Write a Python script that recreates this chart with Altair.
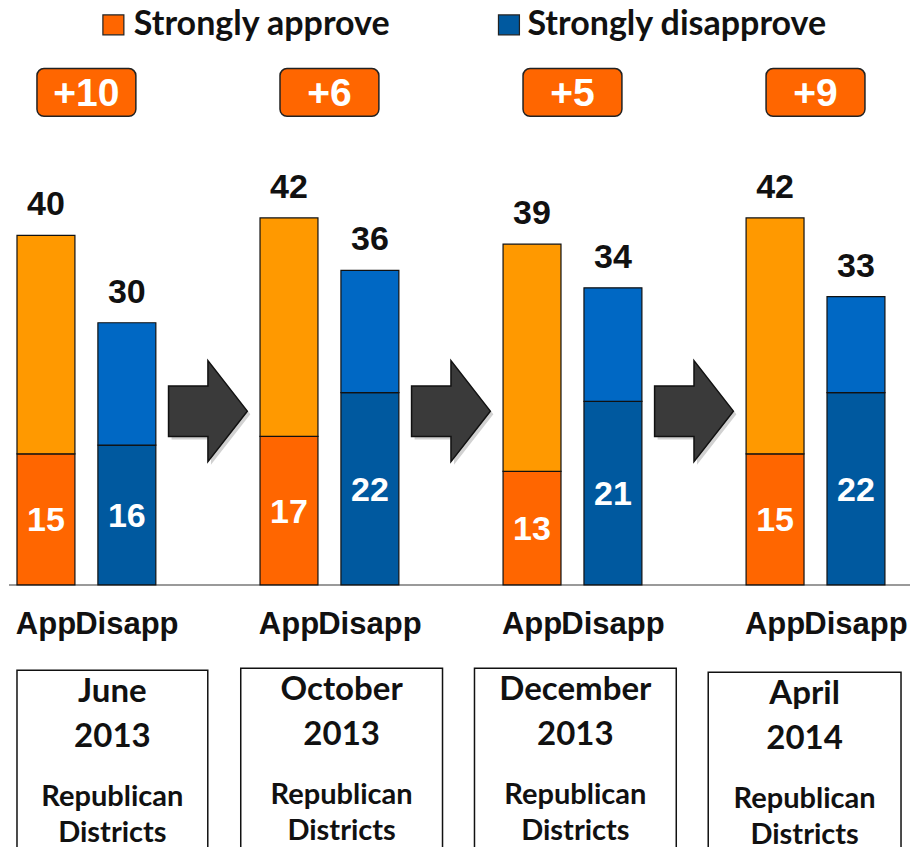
import altair as alt
import pandas as pd

# ---------------- data ----------------
months = ["June", "October", "December", "April"]
years = ["2013", "2013", "2013", "2014"]
approve_total = [40, 42, 39, 42]
approve_strong = [15, 17, 13, 15]
disapprove_total = [30, 36, 34, 33]
disapprove_strong = [16, 22, 21, 22]
bar_labels = ["App", "Disapp"]
legend_labels = ["Strongly approve", "Strongly disapprove"]
region_lines = ["Republican", "Districts"]

# ---------------- layout constants ----------------
W, H = 908, 842            # chart size (page 8..916 x 8..850)
PX = 8.8                   # pixels per percentage point
BASE = 586                 # page y of the zero baseline
X0 = 8                     # page x of chart left


def vy(page_y):
    return (BASE - page_y) / PX


Y_DOMAIN = [vy(8 + H), vy(8)]
X_DOMAIN = [X0, X0 + W]
xs = alt.Scale(domain=X_DOMAIN, nice=False, zero=False)
ys = alt.Scale(domain=Y_DOMAIN, nice=False, zero=False)

GROUP_LEFT0, GROUP_STEP = 16, 243.3
BAR_W, DIS_OFF = 58, 81

seg_domain = ["appr_strong", "appr", "dis_strong", "dis"]
seg_range = ["#FF6600", "#FF9900", "#00599F", "#0068C4"]
cs = alt.Scale(domain=seg_domain, range=seg_range)


def X(f="x"):
    return alt.X(f"{f}:Q", scale=xs, axis=None)


def Y(f="y"):
    return alt.Y(f"{f}:Q", scale=ys, axis=None)


# ---------------- tables ----------------
bars, tops, inner, cats, nets, boxes, boxtext = [], [], [], [], [], [], []
n = len(months)
box_left = [16, 240, 474, 708]
box_right = [207, 442, 676, 901]
box_top = [672, 670, 670, 674]
for i in range(n):
    gl = GROUP_LEFT0 + i * GROUP_STEP
    ax, dx = gl, gl + DIS_OFF
    bars += [
        dict(x=ax, x2=ax + BAR_W, y=0, y2=approve_strong[i], seg="appr_strong"),
        dict(x=ax, x2=ax + BAR_W, y=approve_strong[i], y2=approve_total[i], seg="appr"),
        dict(x=dx, x2=dx + BAR_W, y=0, y2=disapprove_strong[i], seg="dis_strong"),
        dict(x=dx, x2=dx + BAR_W, y=disapprove_strong[i], y2=disapprove_total[i], seg="dis"),
    ]
    tops += [dict(x=ax + BAR_W / 2, y=approve_total[i], t=str(approve_total[i])),
             dict(x=dx + BAR_W / 2, y=disapprove_total[i], t=str(disapprove_total[i]))]
    inner += [dict(x=ax + BAR_W / 2, y=approve_strong[i] / 2, t=str(approve_strong[i])),
              dict(x=dx + BAR_W / 2, y=disapprove_strong[i] / 2, t=str(disapprove_strong[i]))]
    cats += [dict(x=ax + BAR_W / 2, y=vy(626), t=bar_labels[0]),
             dict(x=dx + BAR_W / 2, y=vy(626), t=bar_labels[1])]
    gc = gl + (DIS_OFF + BAR_W) / 2
    net = approve_total[i] - disapprove_total[i]
    nets.append(dict(x=gc - 49.5, x2=gc + 49.5, y=vy(66), y2=vy(114),
                     xc=gc, yc=vy(91), t=f"+{net}" if net >= 0 else str(net)))
    bx = (box_left[i] + box_right[i]) / 2
    boxes.append(dict(x=box_left[i], x2=box_right[i], y=vy(box_top[i]), y2=Y_DOMAIN[0] - 2))
    boxtext += [dict(x=bx, y=vy(box_top[i] + 22), t=months[i], s=33),
                dict(x=bx, y=vy(box_top[i] + 67), t=years[i], s=33),
                dict(x=bx, y=vy(box_top[i] + 128), t=region_lines[0], s=29),
                dict(x=bx, y=vy(box_top[i] + 164), t=region_lines[1], s=29)]

arrows = []
for i in range(n - 1):
    right = GROUP_LEFT0 + i * GROUP_STEP + DIS_OFF + BAR_W
    left_next = GROUP_LEFT0 + (i + 1) * GROUP_STEP
    arrows.append(dict(x=(right + left_next) / 2, y=vy(411)))

legend = [dict(x=102, x2=123, y=vy(12), y2=vy(32), seg="appr_strong",
               tx=133, ty=vy(32), t=legend_labels[0]),
          dict(x=498, x2=519, y=vy(12), y2=vy(32), seg="dis_strong",
               tx=527, ty=vy(32), t=legend_labels[1])]

baseline = pd.DataFrame([dict(x=X0, x2=X0 + W - 6, y=0)])

df_bars = pd.DataFrame(bars)
df_tops = pd.DataFrame(tops)
df_inner = pd.DataFrame(inner)
df_cats = pd.DataFrame(cats)
df_nets = pd.DataFrame(nets)
df_boxes = pd.DataFrame(boxes)
df_boxtext = pd.DataFrame(boxtext)
df_arrows = pd.DataFrame(arrows)
df_legend = pd.DataFrame(legend)

ARIAL = "Liberation Sans"
CALIBRI = "Lato"
ARROW = "M -0.78 -0.5 L 0 -0.5 L 0 -1 L 0.78 0 L 0 1 L 0 0.5 L -0.78 0.5 Z"

# ---------------- layers ----------------
bar_layer = alt.Chart(df_bars).mark_rect(stroke="#111111", strokeWidth=1.2).encode(
    x=X(), x2="x2:Q", y=Y(), y2="y2:Q",
    color=alt.Color("seg:N", scale=cs, legend=None))

rule = alt.Chart(baseline).mark_rule(color="#9a9a9a", strokeWidth=2).encode(
    x=X(), x2="x2:Q", y=Y())

top_text = alt.Chart(df_tops).mark_text(
    font=ARIAL, fontWeight="bold", fontSize=34, color="#111111",
    baseline="alphabetic", dy=-20).encode(x=X(), y=Y(), text="t:N")

inner_text = alt.Chart(df_inner).mark_text(
    font=ARIAL, fontWeight="bold", fontSize=34, color="white",
    baseline="middle", dy=2).encode(x=X(), y=Y(), text="t:N")

cat_text = alt.Chart(df_cats).mark_text(
    font=ARIAL, fontWeight="bold", fontSize=31, color="#111111",
    baseline="middle").encode(x=X(), y=Y(), text="t:N")

arrow_shadow = alt.Chart(df_arrows).mark_point(
    shape=ARROW, size=101 * 101, filled=True, color="#999999", opacity=0.45,
    xOffset=3, yOffset=3).encode(x=X(), y=Y())
arrow_layer = alt.Chart(df_arrows).mark_point(
    shape=ARROW, size=101 * 101, filled=True, fill="#3a3a3a", stroke="#111111",
    strokeWidth=1.5, opacity=1).encode(x=X(), y=Y())

net_box = alt.Chart(df_nets).mark_rect(
    fill="#FF6600", stroke="#222222", strokeWidth=1.5, cornerRadius=7).encode(
    x=X(), x2="x2:Q", y=Y(), y2="y2:Q")
net_text = alt.Chart(df_nets).mark_text(
    font=ARIAL, fontWeight="bold", fontSize=39, color="white",
    baseline="middle", dy=1).encode(x=X("xc"), y=Y("yc"), text="t:N")

box_shadow = alt.Chart(df_boxes).mark_rect(
    fill="#9a9a9a", opacity=0.55, xOffset=4, yOffset=4, clip=True).encode(
    x=X(), x2="x2:Q", y=Y(), y2="y2:Q")
box_layer = alt.Chart(df_boxes).mark_rect(
    fill="white", stroke="#111111", strokeWidth=1.5, clip=True).encode(
    x=X(), x2="x2:Q", y=Y(), y2="y2:Q")
box_text = alt.Chart(df_boxtext).mark_text(
    font=CALIBRI, fontWeight="bold", color="#111111", baseline="middle").encode(
    x=X(), y=Y(), text="t:N",
    size=alt.Size("s:Q", scale=None, legend=None))

legend_sq = alt.Chart(df_legend).mark_rect(stroke="#222222", strokeWidth=1.2).encode(
    x=X(), x2="x2:Q", y=Y(), y2="y2:Q",
    color=alt.Color("seg:N", scale=cs, legend=None))
legend_text = alt.Chart(df_legend).mark_text(
    font=CALIBRI, fontWeight="bold", fontSize=34, color="#111111",
    align="left", baseline="alphabetic").encode(x=X("tx"), y=Y("ty"), text="t:N")

chart = alt.layer(
    rule, bar_layer, top_text, inner_text, cat_text,
    arrow_shadow, arrow_layer, net_box, net_text,
    box_shadow, box_layer, box_text, legend_sq, legend_text,
).properties(
    width=W, height=H, padding=0,
    autosize=alt.AutoSizeParams(type="fit", contains="padding"),
    background="white",
).configure_view(strokeWidth=0)

chart.save("out.html", embed_options={"renderer": "svg", "actions": False})
